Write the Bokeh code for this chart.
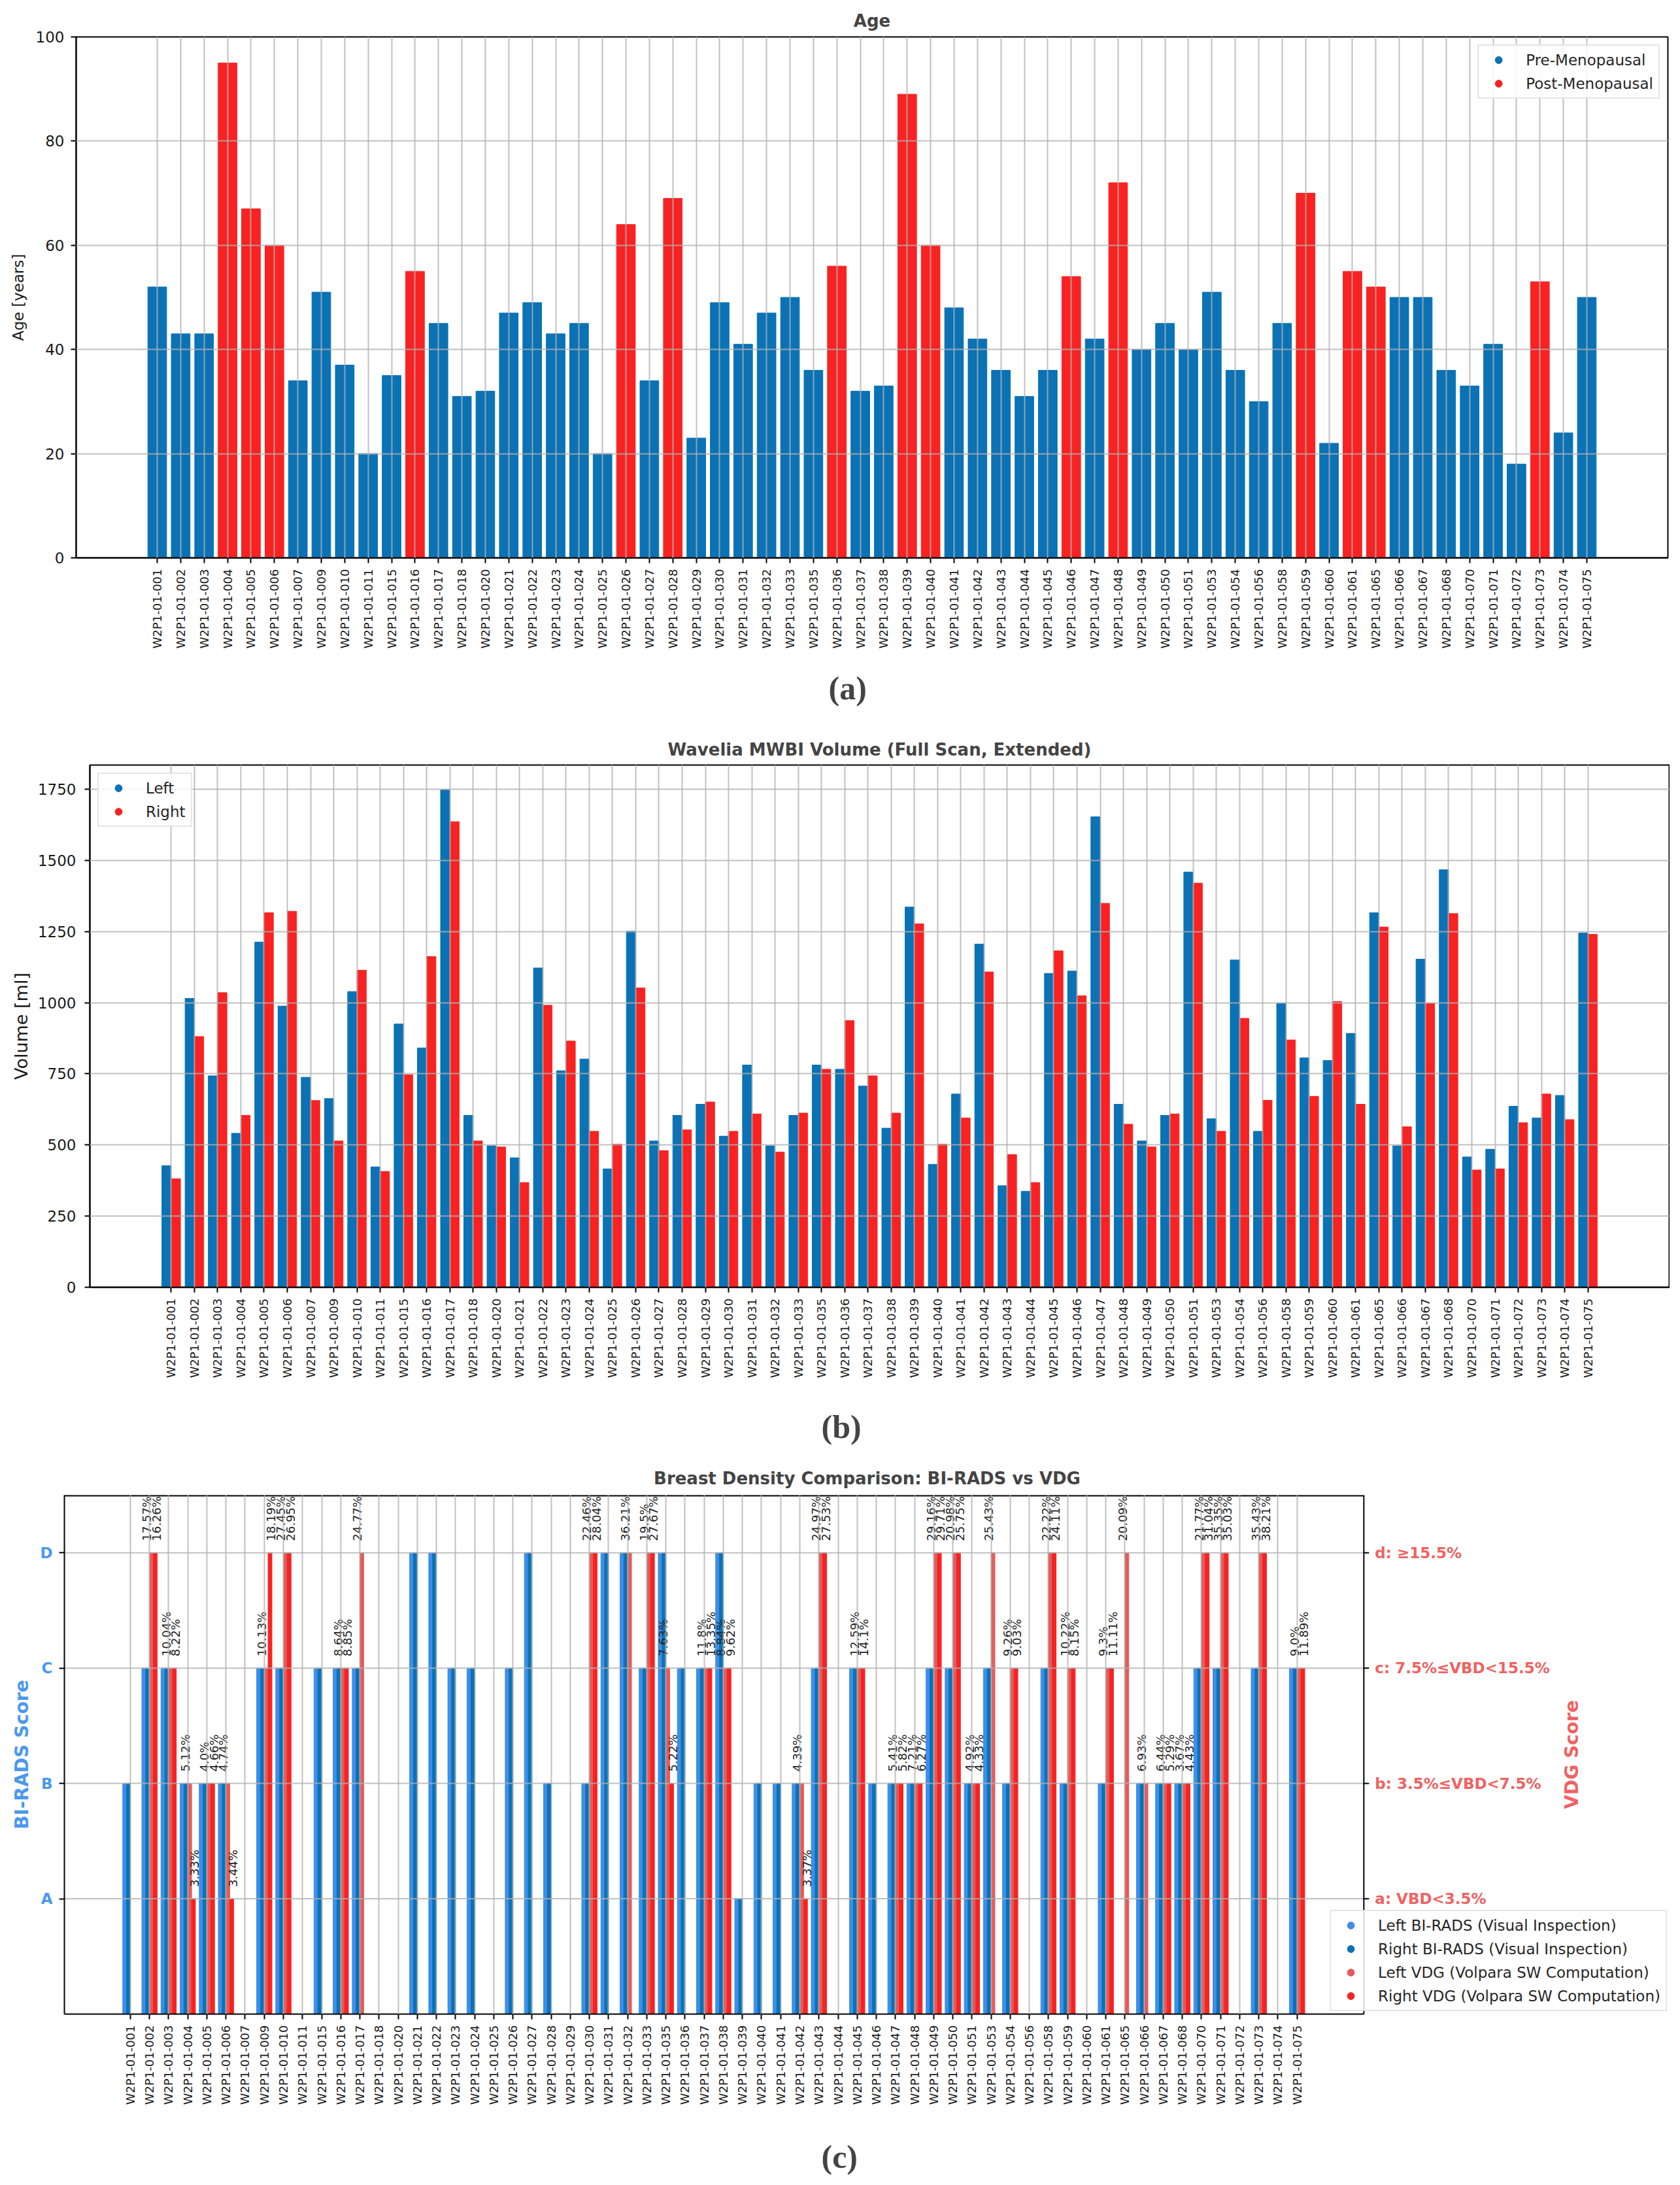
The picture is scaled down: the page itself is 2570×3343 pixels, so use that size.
import math
from bokeh.plotting import figure
from bokeh.models import (Range1d, FixedTicker, Legend, LegendItem,
                          Title, ColumnDataSource)
from bokeh.layouts import column
from bokeh.embed import file_html
from bokeh.resources import INLINE
from bokeh.core.properties import value

FONT = "DejaVu Sans"

# patient ids (same order in all three panels)
patients = ["001", "002", "003", "004", "005", "006", "007", "009", "010", "011",
            "015", "016", "017", "018", "020", "021", "022", "023", "024", "025",
            "026", "027", "028", "029", "030", "031", "032", "033", "035", "036",
            "037", "038", "039", "040", "041", "042", "043", "044", "045", "046",
            "047", "048", "049", "050", "051", "053", "054", "056", "058", "059",
            "060", "061", "065", "066", "067", "068", "070", "071", "072", "073",
            "074", "075"]
labels = ["W2P1-01-" + p for p in patients]

# (a) age
age = [52, 43, 43, 95, 67, 60, 34, 51, 37, 20,
       35, 55, 45, 31, 32, 47, 49, 43, 45, 20,
       64, 34, 69, 23, 49, 41, 47, 50, 36, 56,
       32, 33, 89, 60, 48, 42, 36, 31, 36, 54,
       42, 72, 40, 45, 40, 51, 36, 30, 45, 70,
       22, 55, 52, 50, 50, 36, 33, 41, 18, 53,
       24, 50]
post_meno = ["004", "005", "006", "016", "026", "028", "036", "039", "040",
             "046", "048", "059", "061", "065", "073"]

# (b) volume [ml]
vol_left = [427, 1015, 743, 541, 1213, 988, 738, 663, 1039, 423,
            925, 841, 1748, 604, 497, 455, 1122, 761, 802, 416,
            1251, 514, 604, 643, 531, 781, 497, 604, 781, 766,
            707, 559, 1336, 432, 679, 1206, 357, 337, 1103, 1111,
            1653, 643, 514, 604, 1459, 592, 1150, 548, 998, 806,
            797, 892, 1316, 497, 1153, 1467, 458, 485, 636, 595,
            674, 1245]
vol_right = [381, 881, 1035, 604, 1316, 1321, 656, 514, 1114, 407,
             747, 1162, 1636, 514, 493, 368, 991, 865, 548, 503,
             1052, 480, 553, 651, 548, 609, 475, 612, 766, 937,
             743, 612, 1277, 503, 595, 1108, 466, 368, 1182, 1024,
             1349, 573, 493, 609, 1420, 548, 945, 657, 869, 671,
             1004, 643, 1266, 564, 998, 1313, 412, 416, 578, 679,
             589, 1240]

# (c) BI-RADS (visual) and VDG (Volpara) grades
birads_left = ["B", "C", "C", "B", "B", "B", None, "C", "C", None,
               "C", "C", "C", None, None, "D", "D", "C", "C", None,
               "C", "D", "B", None, "B", "D", "D", "C", "D", "C",
               "C", "D", "A", "B", "B", "B", "C", None, "C", "B",
               "B", "B", "C", "C", "B", "C", "B", None, "C", "B",
               None, "B", None, "B", "B", "B", "C", "C", None, "C",
               None, "C"]
birads_right = list(birads_left)
vdg_left_pct = [None, 17.57, 10.04, 5.12, 4.0, 4.74, None, 10.13, 27.45, None,
                None, 8.64, 24.77, None, None, None, None, None, None, None,
                None, None, None, None, 22.46, None, 36.21, 19.5, 7.63, None,
                11.8, 8.84, None, None, None, 4.39, 24.97, None, 12.59, None,
                5.41, 7.21, 29.16, 20.98, 4.92, 25.43, 9.26, None, 22.22, 10.22,
                None, 9.3, 20.09, 6.93, 6.44, 3.67, 21.77, 35.35, None, 35.43,
                None, 9.0]
vdg_right_pct = [None, 16.26, 8.22, 3.33, 4.66, 3.44, None, 18.19, 26.95, None,
                 None, 8.85, None, None, None, None, None, None, None, None,
                 None, None, None, None, 28.04, None, None, 27.67, 5.22, None,
                 13.35, 9.62, None, None, None, 3.37, 27.53, None, 14.1, None,
                 5.82, 6.27, 29.71, 25.75, 4.33, None, 9.03, None, 24.11, 8.15,
                 None, 11.11, None, None, 5.29, 4.43, 31.04, 35.03, None, 38.21,
                 None, 11.89]
vdg_left = [None, "d", "c", "b", "b", "b", None, "c", "d", None,
            None, "c", "d", None, None, None, None, None, None, None,
            None, None, None, None, "d", None, "d", "d", "c", None,
            "c", "c", None, None, None, "b", "d", None, "c", None,
            "b", "b", "d", "d", "b", "d", "c", None, "d", "c",
            None, "c", "d", "b", "b", "b", "d", "d", None, "d",
            None, "c"]
vdg_right = [None, "d", "c", "a", "b", "a", None, "d", "d", None,
             None, "c", None, None, None, None, None, None, None, None,
             None, None, None, None, "d", None, None, "d", "b", None,
             "c", "c", None, None, None, "a", "d", None, "c", None,
             "b", "b", "d", "d", "b", None, "c", None, "d", "c",
             None, "c", None, None, "b", "b", "d", "d", None, "d",
             None, "c"]
grade_levels = ["A", "B", "C", "D"]
vdg_tick_labels = ["a: VBD<3.5%", "b: 3.5%\u2264VBD<7.5%", "c: 7.5%\u2264VBD<15.5%", "d: \u226515.5%"]

BLUE = "#0a72b5"
RED = "#f82222"
L_BLUE = "#3d8fea"
L_RED = "#e65a5a"
AX_BLUE = "#4a98ef"
AX_RED = "#f06262"
GRID = "#b0b0b0"

xs = list(range(len(patients)))
levels = [1, 2, 3, 4]
nan = float("nan")


def base_style(p, ylabel_size="23px"):
    p.outline_line_color = "black"
    p.outline_line_width = 2
    p.title.text_font = FONT
    p.title.text_font_size = "26px"
    p.title.text_font_style = "bold"
    p.title.align = "center"
    for ax in p.axis:
        ax.axis_line_width = 2
        ax.major_tick_line_width = 2
        ax.major_tick_out = 8
        ax.major_tick_in = 0
        ax.minor_tick_line_color = None
        ax.major_label_text_font = FONT
        ax.major_label_text_font_size = "23px"
        ax.major_label_text_color = "#1a1a1a"
        ax.axis_label_text_font = FONT
        ax.axis_label_text_font_style = "normal"
        ax.axis_label_text_font_size = ylabel_size
        ax.axis_label_text_color = "#1a1a1a"
    p.xaxis.ticker = FixedTicker(ticks=xs)
    p.xgrid.ticker = FixedTicker(ticks=xs)
    p.xaxis.major_label_overrides = {i: lab for i, lab in enumerate(labels)}
    p.xaxis.major_label_orientation = math.pi / 2
    p.xaxis.major_label_text_font_size = "18px"
    p.xaxis.major_label_standoff = 9
    p.grid.grid_line_color = GRID
    p.grid.grid_line_width = 2
    p.grid.grid_line_alpha = 0.8
    p.grid.level = "guide"


def style_legend(legend, margin=12):
    legend.label_text_font = FONT
    legend.label_text_font_size = "23px"
    legend.label_text_color = "#262626"
    legend.glyph_width = 44
    legend.glyph_height = 27
    legend.label_height = 27
    legend.label_standoff = 20
    legend.padding = 8
    legend.spacing = 9
    legend.margin = margin
    legend.border_line_color = "#cccccc"
    legend.border_line_width = 2
    legend.background_fill_alpha = 0.85


def caption(p, text, gap, offset):
    # invisible x-axis label reserves the gap between tick labels and caption
    p.xaxis.axis_label = " "
    p.xaxis.axis_label_text_font_size = "10px"
    p.xaxis.axis_label_standoff = gap
    p.add_layout(Title(text=text, align="left", text_font="Liberation Serif",
                       text_font_size="50px", text_font_style="bold",
                       standoff=0, offset=offset), "below")


# ---------------- (a) Age ----------------
pa = figure(width=2554, height=1100, title="Age",
            x_range=Range1d(-3.46, 64.46), y_range=Range1d(0, 100),
            output_backend="svg", toolbar_location=None, frame_align=False,
            min_border_left=116, min_border_right=3, min_border_top=56, min_border_bottom=247)
age_color = [RED if p in post_meno else BLUE for p in patients]
pa.vbar(x="x", top="age", width=0.8, bottom=0, color="color",
        source=ColumnDataSource(dict(x=xs, age=age, color=age_color)))
pa.yaxis.ticker = FixedTicker(ticks=[0, 20, 40, 60, 80, 100])
pa.yaxis.axis_label = "Age [years]"
pa.yaxis.major_label_standoff = 10
pa.yaxis.axis_label_standoff = 11
base_style(pa)
pa.title.standoff = 20
ra1 = pa.scatter([nan], [nan], marker="circle", size=11, color=BLUE)
ra2 = pa.scatter([nan], [nan], marker="circle", size=11, color=RED)
leg_a = Legend(items=[LegendItem(label="Pre-Menopausal", renderers=[ra1]),
                      LegendItem(label="Post-Menopausal", renderers=[ra2])],
               location="top_right")
style_legend(leg_a)
pa.add_layout(leg_a)
caption(pa, "(a)", 13, 1151)

# ---------------- (b) Volume ----------------
pb = figure(width=2554, height=1115, title="Wavelia MWBI Volume (Full Scan, Extended)",
            x_range=Range1d(-3.5, 64.5), y_range=Range1d(0, 1835),
            output_backend="svg", toolbar_location=None, frame_align=False,
            min_border_left=137, min_border_right=1, min_border_top=70, min_border_bottom=246)
pb.vbar(x=[x - 0.2 for x in xs], top=vol_left, width=0.4, bottom=0, color=BLUE)
pb.vbar(x=[x + 0.2 for x in xs], top=vol_right, width=0.4, bottom=0, color=RED)
pb.yaxis.ticker = FixedTicker(ticks=[0, 250, 500, 750, 1000, 1250, 1500, 1750])
pb.yaxis.axis_label = "Volume [ml]"
pb.yaxis.major_label_standoff = 13
pb.yaxis.axis_label_standoff = 7
base_style(pb, ylabel_size="27px")
pb.title.standoff = 18
rb1 = pb.scatter([nan], [nan], marker="circle", size=11, color=BLUE)
rb2 = pb.scatter([nan], [nan], marker="circle", size=11, color=RED)
leg_b = Legend(items=[LegendItem(label="Left", renderers=[rb1]),
                      LegendItem(label="Right", renderers=[rb2])],
               location="top_left")
style_legend(leg_b)
pb.add_layout(leg_b)
caption(pb, "(b)", 27, 1119)

# ---------------- (c) Density ----------------
# the frame runs to the right edge so that the legend can overlap the right spine;
# the axes box itself ends at x_hi
x_lo, x_hi, frame_hi = -3.45, 64.49, 80.49
y_top = 4.5
pc = figure(width=2554, height=1112, title="Breast Density Comparison: BI-RADS vs VDG",
            x_range=Range1d(x_lo, frame_hi), y_range=Range1d(0, y_top),
            output_backend="svg", toolbar_location=None, frame_align=False,
            min_border_left=98, min_border_right=0, min_border_top=72, min_border_bottom=244)


def grade_bars(grades, offset, color):
    gx = [i + offset for i, g in enumerate(grades) if g]
    gt = [grade_levels.index(g.upper()) + 1 for g in grades if g]
    return pc.vbar(x=gx, top=gt, width=0.2, bottom=0, color=color)


grade_bars(birads_left, -0.3, L_BLUE)
grade_bars(birads_right, -0.1, BLUE)
grade_bars(vdg_left, 0.1, L_RED)
grade_bars(vdg_right, 0.3, RED)

# horizontal grid only across the axes box
pc.segment(x0=[x_lo] * 4, x1=[x_hi] * 4, y0=levels, y1=levels,
           line_color=GRID, line_width=2, line_alpha=0.8)


def pct_labels(pcts, grades, offset):
    tx = [i + offset for i, v in enumerate(pcts) if v is not None]
    ty = [grade_levels.index(g.upper()) + 1 for v, g in zip(pcts, grades) if v is not None]
    tt = [f"{v}%" for v in pcts if v is not None]
    pc.text(x=tx, y=ty, text=tt, angle=math.pi / 2, text_align="left", text_baseline="middle",
            text_font=value(FONT), text_font_size="18px", text_color="#222222", y_offset=-18)


pct_labels(vdg_left_pct, vdg_left, -0.13)
pct_labels(vdg_right_pct, vdg_right, 0.36)

# right spine, top spine, right-hand VDG axis
pc.segment(x0=[x_hi], x1=[x_hi], y0=[0], y1=[y_top], line_color="black", line_width=2)
pc.segment(x0=[x_lo], x1=[x_hi], y0=[y_top], y1=[y_top], line_color="black", line_width=4)
pc.ray(x=[x_hi] * 4, y=levels, length=8, length_units="screen", angle=0,
       line_color="black", line_width=2)
pc.text(x=[x_hi] * 4, y=levels, text=vdg_tick_labels, x_offset=17,
        text_align="left", text_baseline="middle", text_font=value(FONT),
        text_font_size="23px", text_font_style="bold", text_color=AX_RED)
pc.text(x=[x_hi], y=[y_top / 2], text=["VDG Score"], x_offset=318, angle=math.pi / 2,
        text_align="center", text_baseline="middle", text_font=value(FONT),
        text_font_size="28px", text_font_style="bold", text_color=AX_RED)

pc.yaxis.ticker = FixedTicker(ticks=levels)
pc.yaxis.major_label_overrides = {i + 1: g for i, g in enumerate(grade_levels)}
pc.yaxis.axis_label = "BI-RADS Score"
base_style(pc)
pc.outline_line_color = None
pc.ygrid.visible = False
pc.xaxis.bounds = (x_lo, x_hi)
pc.title.standoff = 22
pc.yaxis.major_label_text_color = AX_BLUE
pc.yaxis.major_label_text_font_style = "bold"
pc.yaxis.major_label_standoff = 10
pc.yaxis.axis_label_text_color = AX_BLUE
pc.yaxis.axis_label_text_font_style = "bold"
pc.yaxis.axis_label_text_font_size = "28px"
pc.yaxis.axis_label_standoff = 8

rc = [pc.scatter([nan], [nan], marker="circle", size=11, color=c)
      for c in (L_BLUE, BLUE, L_RED, RED)]
leg_c = Legend(items=[LegendItem(label="Left BI-RADS (Visual Inspection)", renderers=[rc[0]]),
                      LegendItem(label="Right BI-RADS (Visual Inspection)", renderers=[rc[1]]),
                      LegendItem(label="Left VDG (Volpara SW Computation)", renderers=[rc[2]]),
                      LegendItem(label="Right VDG (Volpara SW Computation)", renderers=[rc[3]])],
               location="bottom_right")
style_legend(leg_c, margin=4)
pc.add_layout(leg_c)
caption(pc, "(c)", 32, 1158)

layout = column(pa, pb, pc)
open("out.html", "w").write(file_html(layout, INLINE))
